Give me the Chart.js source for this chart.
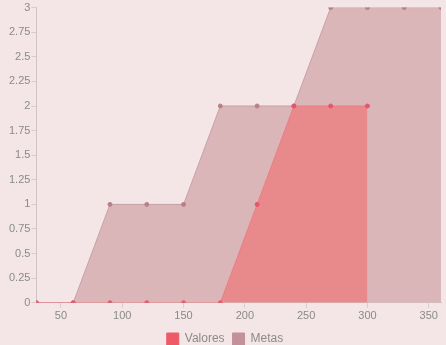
<!DOCTYPE html>
<html lang="es">
<head>
  <meta charset="UTF-8" />
  <title>Valores y Metas</title>
  <script src="https://cdn.jsdelivr.net/npm/chart.js"></script>
  <style>
    body { margin: 0; padding: 0; background: #f4e6e6; font-family: "Liberation Sans", sans-serif; }
    #wrap { width: 446px; height: 345px; position: relative; }
  </style>
</head>
<body>
  <div id="wrap"><canvas id="chart"></canvas></div>

  <script>
    const xValues = [30, 60, 90, 120, 150, 180, 210, 240, 270, 300, 330, 360];
    const valores = [0, 0, 0, 0, 0, 0, 1, 2, 2, 2, null, null];
    const metas = [0, 0, 1, 1, 1, 2, 2, 2, 3, 3, 3, 3];

    const toPoints = (arr) => xValues.map((x, i) => ({ x: x, y: arr[i] }));

    new Chart(document.getElementById('chart'), {
      type: 'line',
      data: {
        datasets: [
          {
            label: 'Valores',
            data: toPoints(valores),
            fill: 'origin',
            backgroundColor: '#e88a8b',
            borderColor: '#ec7d84',
            borderWidth: 1,
            pointRadius: 2,
            pointBackgroundColor: '#e4576a',
            pointBorderColor: '#e4576a',
            tension: 0,
            spanGaps: false
          },
          {
            label: 'Metas',
            data: toPoints(metas),
            fill: 'origin',
            backgroundColor: '#dab6b9',
            borderColor: '#c9a0a6',
            borderWidth: 1,
            pointRadius: 2,
            pointBackgroundColor: '#b98089',
            pointBorderColor: '#b98089',
            tension: 0
          }
        ]
      },
      options: {
        responsive: true,
        maintainAspectRatio: false,
        animation: false,
        // legend sits close to the bottom edge in the original
        layout: { padding: { left: 8, right: 4, top: 3, bottom: -10 } },
        scales: {
          x: {
            type: 'linear',
            min: 30,
            max: 360,
            grid: { drawOnChartArea: false, tickLength: 5, color: '#d8cccc' },
            border: { color: '#cfc3c3' },
            ticks: { stepSize: 50, includeBounds: false, color: '#8a8a8a', font: { size: 11 }, padding: 2 }
          },
          y: {
            min: 0,
            max: 3,
            grid: { drawOnChartArea: false, tickLength: 5, color: '#d8cccc' },
            border: { color: '#cfc3c3' },
            ticks: {
              stepSize: 0.25,
              color: '#8a8a8a',
              font: { size: 11 },
              padding: 1,
              callback: (v) => String(v)
            }
          }
        },
        plugins: {
          legend: {
            position: 'bottom',
            labels: {
              boxWidth: 12,
              boxHeight: 12,
              padding: 8,
              color: '#8a8a8a',
              font: { size: 12 },
              generateLabels: function (chart) {
                const items = Chart.defaults.plugins.legend.labels.generateLabels(chart);
                const boxColors = ['#ee5a68', '#c3919a'];
                items.forEach((it, i) => {
                  it.fillStyle = boxColors[i];
                  it.strokeStyle = boxColors[i];
                });
                return items;
              }
            }
          },
          tooltip: { enabled: false }
        }
      }
    });
  </script>
</body>
</html>
